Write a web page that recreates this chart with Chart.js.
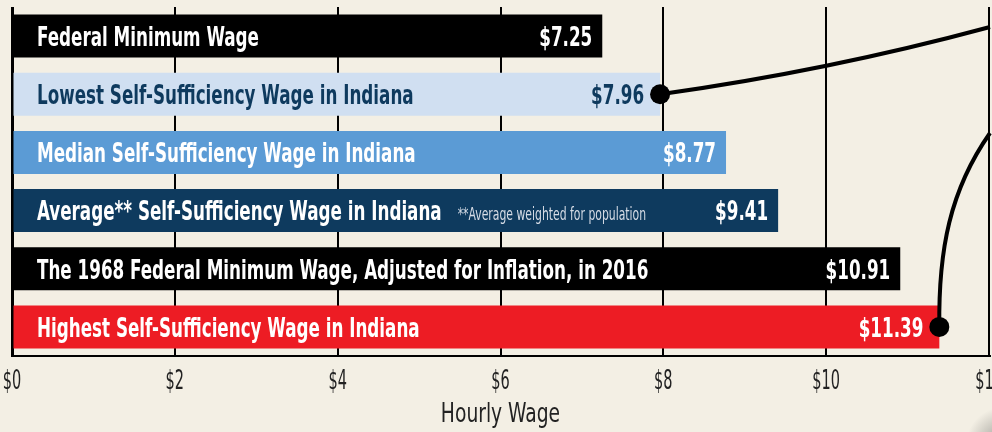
<!DOCTYPE html>
<html><head><meta charset="utf-8">
<script src="https://cdn.jsdelivr.net/npm/chart.js@4/dist/chart.umd.min.js"></script>
<style>
html,body{margin:0;padding:0;background:#f3efe4;overflow:hidden;}
#wrap{position:relative;width:992px;height:432px;}
</style></head><body>
<div id="wrap"><canvas id="c" width="992" height="432"></canvas></div>
<script>
const categories = [
  "Federal Minimum Wage",
  "Lowest Self-Sufficiency Wage in Indiana",
  "Median Self-Sufficiency Wage in Indiana",
  "Average** Self-Sufficiency Wage in Indiana",
  "The 1968 Federal Minimum Wage, Adjusted for Inflation, in 2016",
  "Highest Self-Sufficiency Wage in Indiana"
];
const values = [7.25, 7.96, 8.77, 9.41, 10.91, 11.39];
const valueLabels = ["$7.25", "$7.96", "$8.77", "$9.41", "$10.91", "$11.39"];
const notes = ["", "", "", "**Average weighted for population", "", ""];
const dotRows = [1, 5];
const tickValues = [0, 2, 4, 6, 8, 10, 12];
const axisTitle = "Hourly Wage";

const barColors = ["#000000", "#d0dff1", "#5b9bd5", "#0e3a5e", "#000000", "#ed1c24"];
const textColors = ["#ffffff", "#0e3a5e", "#ffffff", "#ffffff", "#ffffff", "#ffffff"];
const FAM = '"DejaVu Sans Condensed","DejaVu Sans",sans-serif';
const BG = "#f3efe4";

const canvas = document.getElementById("c");
const ctx2d = canvas.getContext("2d");
// condensed rendering: squeeze text horizontally around its anchor point
const origFill = ctx2d.fillText.bind(ctx2d);
ctx2d.fillText = function (text, x, y) {
  let sx = this.__sx;
  if (!sx) {
    const m = /(\d+(?:\.\d+)?)px/.exec(this.font);
    const s = m ? +m[1] : 0;
    sx = s === 26 ? 0.62 : s === 27 ? 0.77 : 1;
  }
  this.save();
  this.translate(x, y);
  this.scale(sx, 1);
  origFill(text, 0, 0);
  this.restore();
};

const bgPlugin = {
  id: "bg",
  beforeDraw(chart) {
    const c = chart.ctx;
    c.save();
    c.fillStyle = BG;
    c.fillRect(0, 0, chart.width, chart.height);
    c.restore();
  }
};

const labelPlugin = {
  id: "labels",
  afterDatasetsDraw(chart) {
    const c = chart.ctx;
    const meta = chart.getDatasetMeta(0);
    const area = chart.chartArea;
    const LSX = 0.69, NSX = 0.67;
    c.save();
    const capH = 0.73 * 27;
    meta.data.forEach((bar, i) => {
      const yb = bar.y + capH / 2;
      c.textBaseline = "alphabetic";
      c.font = "bold 27px " + FAM;
      c.fillStyle = textColors[i];
      c.textAlign = "left";
      c.__sx = LSX;
      c.fillText(categories[i], area.left + 25, yb);
      const w = c.measureText(categories[i]).width * LSX;
      if (notes[i]) {
        c.font = "18px " + FAM;
        c.fillStyle = "#d6dce6";
        c.__sx = NSX;
        c.fillText(notes[i], area.left + 25 + w + 16, yb);
      }
      c.font = "bold 27px " + FAM;
      c.fillStyle = textColors[i];
      c.textAlign = "right";
      c.__sx = LSX;
      const pad = dotRows.includes(i) ? 16 : 10;
      c.fillText(valueLabels[i], bar.x - pad, yb);
    });
    c.__sx = 0;
    c.restore();
  },
  afterDraw(chart) {
    const c = chart.ctx;
    const meta = chart.getDatasetMeta(0);
    const xs = chart.scales.x;
    const edge = xs.getPixelForValue(tickValues[tickValues.length - 1]) + 1;
    c.save();
    c.strokeStyle = "#000";
    c.lineWidth = 4;
    c.lineCap = "butt";
    // connector from lowest wage dot
    const b1 = meta.data[dotRows[0]];
    c.beginPath();
    c.moveTo(b1.x, b1.y);
    c.quadraticCurveTo(827, 71, edge, 27);
    c.stroke();
    // connector from highest wage dot
    const b2 = meta.data[dotRows[1]];
    c.beginPath();
    c.moveTo(b2.x, b2.y);
    c.bezierCurveTo(b2.x - 1, 250, 950, 190, edge, 133);
    c.stroke();
    c.fillStyle = "#000";
    [b1, b2].forEach(b => {
      c.beginPath();
      c.arc(b.x, b.y, 10, 0, Math.PI * 2);
      c.fill();
    });
    // page shadow in the corner
    const g = c.createRadialGradient(1004, 445, 2, 1004, 445, 38);
    g.addColorStop(0, "rgba(70,70,70,0.5)");
    g.addColorStop(1, "rgba(70,70,70,0)");
    c.fillStyle = g;
    c.fillRect(950, 385, 42, 47);
    c.restore();
  }
};

new Chart(canvas, {
  type: "bar",
  data: {
    labels: categories,
    datasets: [{
      data: values,
      backgroundColor: barColors,
      borderWidth: 0,
      barPercentage: 1,
      categoryPercentage: 0.74
    }]
  },
  options: {
    indexAxis: "y",
    responsive: false,
    devicePixelRatio: 1,
    animation: false,
    layout: { padding: { left: 12, right: 3, top: 7, bottom: 0 } },
    plugins: { legend: { display: false }, tooltip: { enabled: false } },
    scales: {
      x: {
        type: "linear",
        min: 0,
        max: 12,
        afterBuildTicks(scale) { scale.ticks = tickValues.map(v => ({ value: v })); },
        afterFit(scale) {
          scale.height = 76;
          scale.paddingLeft = 0;
          scale.paddingRight = 0;
        },
        ticks: {
          callback: v => "$" + v,
          color: "#222",
          font: { family: FAM, size: 26 },
          padding: 11,
          maxRotation: 0,
          autoSkip: false
        },
        grid: {
          color: "#000",
          lineWidth: ctx => (ctx.tick && ctx.tick.value === 0 ? 3 : 2),
          drawTicks: false
        },
        border: { display: true, color: "#000", width: 2 },
        title: {
          display: true,
          text: axisTitle,
          color: "#222",
          font: { family: FAM, size: 27 },
          padding: { top: 0, bottom: 1 }
        }
      },
      y: { display: false }
    }
  },
  plugins: [bgPlugin, labelPlugin]
});
</script>
</body></html>
